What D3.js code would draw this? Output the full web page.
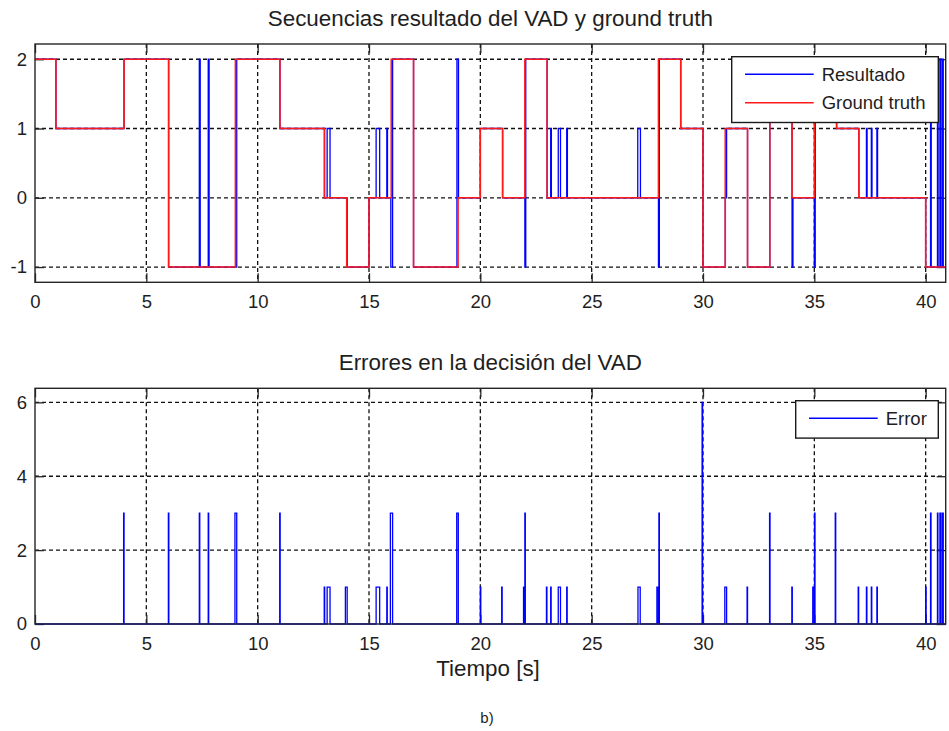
<!DOCTYPE html>
<html>
<head>
<meta charset="utf-8">
<script src="https://cdn.jsdelivr.net/npm/d3@7"></script>
<style>
  body { margin: 0; background: #fff; }
  svg { display: block; font-family: "Liberation Sans", Arial, sans-serif; }
</style>
</head>
<body>
<div id="chart"></div>
<script>
// VAD result vs ground truth, plus error trace (two stacked panels)

const tEnd = 40.9;

// ground truth: step changes (time in s, class value from that time on)
const gtTimes  = [0, 0.94, 4, 6, 9, 11, 13, 14, 15, 16, 17, 19, 20, 21, 22, 23, 28, 29, 30, 31, 32, 33, 34, 35, 36, 37, 40];
const gtValues = [2, 1, 2, -1, 2, 1, 0, -1, 0, 2, -1, 0, 1, 0, 2, 0, 2, 1, -1, 1, -1, 2, 0, 2, 1, 0, -1];

// VAD result: step changes
const resTimes  = [0, 0.94, 4, 6, 7.38, 7.42, 7.78, 7.82, 9.06, 11, 13, 13.12, 13.25, 14.02, 15, 15.32, 15.48, 15.8, 15.83,
                   15.98, 16.06, 17, 18.95, 19.02, 20, 21, 22, 22.04, 23, 23.16, 23.19, 23.5, 23.6, 23.88, 23.91,
                   27.07, 27.19, 28, 28.04, 29, 30, 31, 31.06, 32, 33, 34, 34.04, 35, 35.04, 36, 37,
                   37.34, 37.37, 37.56, 37.59, 37.81, 37.84, 40, 40.22, 40.25, 40.53, 40.56, 40.64, 40.67, 40.74, 40.79];
const resValues = [2, 1, 2, -1, 2, -1, 2, -1, 2, 1, 0, 1, 0, -1, 0, 1, 0, 1, 0,
                   -1, 2, -1, 2, 0, 1, 0, -1, 2, 0, 1, 0, 1, 0, 1, 0,
                   1, 0, -1, 2, 1, -1, 0, 1, -1, 2, -1, 0, -1, 2, 1, 0,
                   1, 0, 1, 0, 1, 0, -1, 2, -1, 2, -1, 2, -1, 2, -1];

// error pulses: start, end, height
const errStart = [3.98, 5.99, 7.38, 7.78, 8.98, 10.99, 12.99, 13.12, 13.94, 15.32, 15.8, 15.96, 18.94, 20.0, 20.96,
                  21.94, 22.0, 22.97, 23.16, 23.5, 23.88, 27.08, 27.93, 28.02, 29.96, 30.98, 31.98, 32.99, 33.99,
                  34.93, 35.01, 35.94, 36.97, 37.34, 37.56, 37.81, 40.0, 40.22, 40.53, 40.64, 40.74];
const errEnd   = [4.0, 6.01, 7.4, 7.8, 9.06, 11.01, 13.01, 13.25, 14.02, 15.48, 15.82, 16.06, 19.01, 20.02, 20.98,
                  21.99, 22.02, 22.99, 23.18, 23.6, 23.9, 27.18, 27.99, 28.04, 29.98, 31.06, 32.0, 33.01, 34.01,
                  34.99, 35.03, 35.96, 36.99, 37.36, 37.58, 37.83, 40.02, 40.24, 40.55, 40.67, 40.79];
const errValue = [3, 3, 3, 3, 3, 3, 1, 1, 1, 1, 1, 3, 3, 1, 1,
                  1, 3, 1, 1, 1, 1, 1, 1, 3, 6, 1, 1, 3, 1,
                  1, 3, 3, 1, 1, 1, 1, 1, 3, 3, 3, 3];

const xTicks  = [0, 5, 10, 15, 20, 25, 30, 35, 40];
const y1Ticks = [-1, 0, 1, 2];
const y2Ticks = [0, 2, 4, 6];

const width = 949, height = 731;
const left = 35, right = 945.7;
const textColor = "#1e1e1e";
const fmt = d => String(d);   // plain hyphen for negatives, like the original

const svg = d3.select("#chart").append("svg")
    .attr("width", width)
    .attr("height", height);

svg.append("rect").attr("width", width).attr("height", height).attr("fill", "#fff");

const x = d3.scaleLinear().domain([0, tEnd]).range([left, right]);

function stepPoints(times, values) {
    const pts = times.map((t, i) => [t, values[i]]);
    pts.push([tEnd, values[values.length - 1]]);
    return pts;
}

function errPoints() {
    const pts = [[0, 0]];
    errStart.forEach((s, i) => {
        pts.push([s, 0], [s, errValue[i]], [errEnd[i], errValue[i]], [errEnd[i], 0]);
    });
    pts.push([tEnd, 0]);
    return pts;
}

function panel(top, bottom, yDomain, yTicks, title) {
    const y = d3.scaleLinear().domain(yDomain).range([bottom, top]);
    const g = svg.append("g");

    // dashed grid
    const grid = g.append("g")
        .attr("stroke", "#111")
        .attr("stroke-width", 1.3)
        .attr("stroke-dasharray", "4,3");
    grid.selectAll(".gx").data(xTicks.filter(d => d > 0))
        .join("line")
        .attr("x1", d => x(d)).attr("x2", d => x(d))
        .attr("y1", top).attr("y2", bottom);
    grid.selectAll(".gy").data(yTicks.filter(d => y(d) < bottom - 1 && y(d) > top + 1))
        .join("line")
        .attr("x1", left).attr("x2", right)
        .attr("y1", d => y(d)).attr("y2", d => y(d));

    // box with ticks on all four sides
    const axes = [
        d3.axisBottom(x).tickValues(xTicks).tickFormat(fmt).tickSizeInner(-9).tickSizeOuter(0).tickPadding(13),
        d3.axisTop(x).tickValues(xTicks).tickSizeInner(-9).tickSizeOuter(0).tickFormat(""),
        d3.axisLeft(y).tickValues(yTicks).tickFormat(fmt).tickSizeInner(-9).tickSizeOuter(0).tickPadding(8),
        d3.axisRight(y).tickValues(yTicks).tickSizeInner(-9).tickSizeOuter(0).tickFormat("")
    ];
    const pos = [`translate(0,${bottom})`, `translate(0,${top})`, `translate(${left},0)`, `translate(${right},0)`];
    axes.forEach((ax, i) => {
        const a = g.append("g").attr("transform", pos[i]).call(ax);
        a.select(".domain").remove();
        a.selectAll("line").attr("stroke", "#262626").attr("stroke-width", 1.3);
        a.selectAll("text")
            .attr("fill", textColor)
            .style("font-size", "18.5px")
            .style("font-family", "'Liberation Sans', Arial, sans-serif");
    });

    g.append("text")
        .attr("x", (left + right) / 2)
        .attr("y", top - 18)
        .attr("text-anchor", "middle")
        .attr("fill", textColor)
        .style("font-size", "22.4px")
        .text(title);

    return { g, y, top, bottom };
}

// ---- top panel
const p1 = panel(44, 282.3, [-1.22, 2.22], y1Ticks, "Secuencias resultado del VAD y ground truth");

const line1 = d3.line().x(d => x(d[0])).y(d => p1.y(d[1])).curve(d3.curveStepAfter);

const plot1 = svg.append("g");
plot1.append("path")
    .datum(stepPoints(resTimes, resValues))
    .attr("fill", "none")
    .attr("stroke", "#0000ff")
    .attr("stroke-width", 1.3)
    .attr("d", line1);
plot1.append("path")
    .datum(stepPoints(gtTimes, gtValues))
    .attr("fill", "none")
    .attr("stroke", "#ff1a1a")
    .attr("stroke-width", 1.6)
    .attr("d", line1);

svg.append("rect")
    .attr("x", left).attr("y", 44)
    .attr("width", right - left).attr("height", 282.3 - 44)
    .attr("fill", "none").attr("stroke", "#262626").attr("stroke-width", 1.4);

// ---- bottom panel
const p2 = panel(388.3, 624, [0, 6.38], y2Ticks, "Errores en la decisión del VAD");

const line2 = d3.line().x(d => x(d[0])).y(d => p2.y(d[1]));
svg.append("path")
    .datum(errPoints())
    .attr("fill", "none")
    .attr("stroke", "#0000ff")
    .attr("stroke-width", 1.3)
    .attr("d", line2);

svg.append("rect")
    .attr("x", left).attr("y", 388.3)
    .attr("width", right - left).attr("height", 624 - 388.3)
    .attr("fill", "none").attr("stroke", "#262626").attr("stroke-width", 1.4);

svg.append("text")
    .attr("x", 488).attr("y", 676)
    .attr("text-anchor", "middle")
    .attr("fill", textColor)
    .style("font-size", "22.4px")
    .text("Tiempo [s]");

svg.append("text")
    .attr("x", 487).attr("y", 723)
    .attr("text-anchor", "middle")
    .attr("fill", textColor)
    .style("font-size", "15px")
    .text("b)");

// ---- legends
function legend(x0, y0, w, items) {
    const lg = svg.append("g");
    lg.append("rect")
        .attr("x", x0).attr("y", y0)
        .attr("width", w).attr("height", items.length * 28.4 + 9)
        .attr("fill", "#fff").attr("stroke", "#1a1a1a").attr("stroke-width", 1.4);
    items.forEach((it, i) => {
        const cy = y0 + 17.6 + i * 28.4;
        lg.append("line")
            .attr("x1", x0 + 13.3).attr("x2", x0 + 82)
            .attr("y1", cy).attr("y2", cy)
            .attr("stroke", it.color).attr("stroke-width", 1.4);
        lg.append("text")
            .attr("x", x0 + 90).attr("y", cy + 6.5)
            .attr("fill", textColor)
            .style("font-size", "18.5px")
            .text(it.name);
    });
}

legend(731.7, 56.7, 206.6, [{ name: "Resultado", color: "#0000ff" }, { name: "Ground truth", color: "#ff1a1a" }]);
legend(795.7, 400.7, 142.6, [{ name: "Error", color: "#0000ff" }]);
</script>
</body>
</html>
